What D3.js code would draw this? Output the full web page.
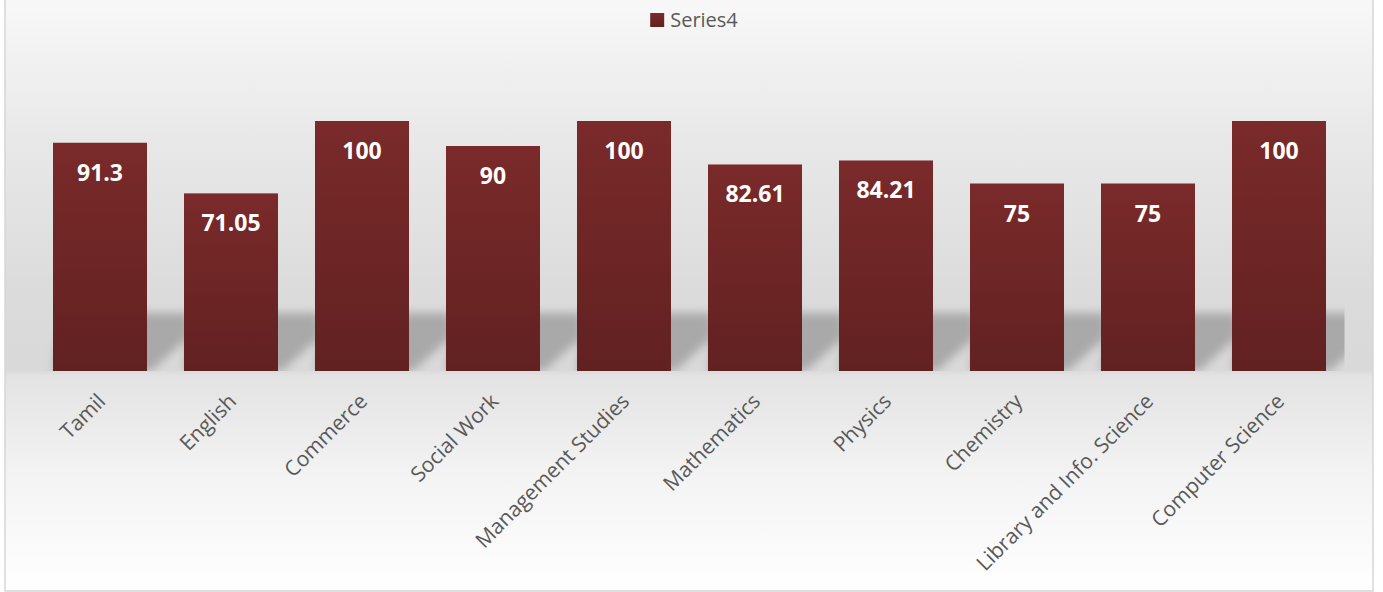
<!DOCTYPE html>
<html>
<head>
<meta charset="utf-8">
<script src="https://cdn.jsdelivr.net/npm/d3@7"></script>
<style>
  html, body { margin: 0; padding: 0; background: #ffffff; }
  svg { display: block; }
</style>
</head>
<body>
<svg id="chart" width="1383" height="592"></svg>
<script>
// Pass percentage by department
const categories = ["Tamil", "English", "Commerce", "Social Work", "Management Studies",
  "Mathematics", "Physics", "Chemistry", "Library and Info. Science", "Computer Science"];
const values = [91.3, 71.05, 100, 90, 100, 82.61, 84.21, 75, 75, 100];
const valueLabels = ["91.3", "71.05", "100", "90", "100", "82.61", "84.21", "75", "75", "100"];
const seriesName = "Series4";

const W = 1383, H = 592;
const frame = { x: 5, y: -1, w: 1368, h: 592 };
const plot = { left: 34.5, right: 1344.5, top: 121, bottom: 371 };

const svg = d3.select("#chart");
const defs = svg.append("defs");

// chart area background: light at top, grey toward the axis, light again below
const bg = defs.append("linearGradient").attr("id", "bgGrad")
  .attr("gradientUnits", "userSpaceOnUse")
  .attr("x1", 0).attr("y1", 0).attr("x2", 0).attr("y2", H);
[[0, "#f8f8f8"], [0.22, "#e9e9e9"], [0.5, "#dbdbdb"], [0.625, "#d9d9d9"],
 [0.635, "#e3e3e3"], [0.8, "#f3f3f3"], [1, "#ffffff"]]
  .forEach(([o, c]) => bg.append("stop").attr("offset", o).attr("stop-color", c));

// bar fill: dark red, slightly darker at the base
const barGrad = defs.append("linearGradient").attr("id", "barGrad")
  .attr("x1", 0).attr("y1", 0).attr("x2", 0).attr("y2", 1);
barGrad.append("stop").attr("offset", 0).attr("stop-color", "#7a2a2a");
barGrad.append("stop").attr("offset", 1).attr("stop-color", "#622121");

const blur = defs.append("filter").attr("id", "shadowBlur")
  .attr("x", "-50%").attr("y", "-50%").attr("width", "200%").attr("height", "200%");
blur.append("feGaussianBlur").attr("stdDeviation", 5);

defs.append("clipPath").attr("id", "plotClip")
  .append("rect")
  .attr("x", plot.left).attr("y", plot.top - 20)
  .attr("width", plot.right - plot.left).attr("height", plot.bottom - plot.top + 20);

svg.append("rect")
  .attr("x", frame.x).attr("y", frame.y).attr("width", frame.w).attr("height", frame.h)
  .attr("fill", "url(#bgGrad)")
  .attr("stroke", "#d6d6d6").attr("stroke-width", 1.5);

const x = d3.scaleBand()
  .domain(categories)
  .range([plot.left, plot.right])
  .paddingInner(0.2824)
  .paddingOuter(0.1412);

const y = d3.scaleLinear().domain([0, 100]).range([plot.bottom, plot.top]);

const data = categories.map((c, i) => ({ cat: c, v: values[i], label: valueLabels[i] }));

// soft shadow cast behind the base of each bar
const shadowTop = plot.bottom - 58;
svg.append("g").attr("clip-path", "url(#plotClip)")
  .append("g").attr("filter", "url(#shadowBlur)")
  .selectAll("path").data(data).join("path")
  .attr("fill", "#a9a9a9")
  .attr("d", d => {
    const x0 = x(d.cat), x1 = x0 + x.bandwidth();
    const b = y(0);
    return `M${x0},${b} L${x1 + 4},${b} L${x1 + 42},${b - 34} L${x1 + 42},${shadowTop} L${x0 + 10},${shadowTop} Z`;
  });

// bars
svg.append("g").selectAll("rect").data(data).join("rect")
  .attr("x", d => x(d.cat))
  .attr("y", d => y(d.v))
  .attr("width", x.bandwidth())
  .attr("height", d => y(0) - y(d.v))
  .attr("fill", "url(#barGrad)");

// value labels inside the bar tops
svg.append("g").selectAll("text").data(data).join("text")
  .attr("x", d => x(d.cat) + x.bandwidth() / 2)
  .attr("y", d => y(d.v) + 38)
  .attr("text-anchor", "middle")
  .attr("font-family", "'Open Sans', sans-serif")
  .attr("font-weight", 700)
  .attr("font-size", 23)
  .attr("fill", "#ffffff")
  .text(d => d.label);

// category axis with slanted labels
const xAxis = svg.append("g")
  .attr("transform", `translate(0,${plot.bottom})`)
  .call(d3.axisBottom(x).tickSize(0).tickPadding(0));
xAxis.select(".domain").remove();
xAxis.selectAll(".tick text")
  .attr("font-family", "'Open Sans', sans-serif")
  .attr("font-size", 21)
  .attr("fill", "#595959")
  .attr("text-anchor", "end")
  .attr("x", 0).attr("y", 0).attr("dy", "0.72em")
  .attr("transform", "translate(-4,21) rotate(-45)");

// legend
const legend = svg.append("g");
const legendText = legend.append("text")
  .attr("x", 20).attr("y", 27)
  .attr("font-family", "'Open Sans', sans-serif")
  .attr("font-size", 20)
  .attr("fill", "#595959")
  .text(seriesName);
legend.append("rect")
  .attr("x", 0).attr("y", 13).attr("width", 14).attr("height", 14)
  .attr("fill", "url(#barGrad)");
const lw = 20 + legendText.node().getComputedTextLength();
legend.attr("transform", `translate(${694 - lw / 2},0)`);
</script>
</body>
</html>
